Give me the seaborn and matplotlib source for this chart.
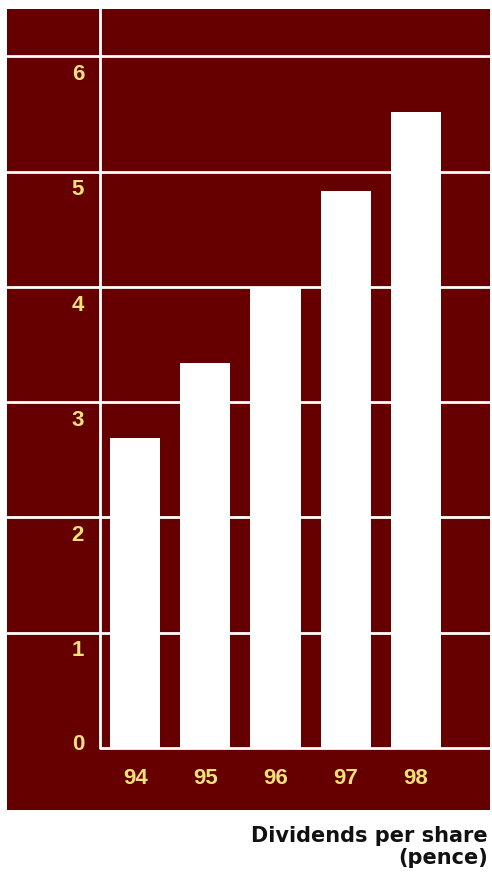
import numpy as np
import pandas as pd
import matplotlib
matplotlib.use('Agg')
import matplotlib.pyplot as plt
import seaborn as sns

years     = ["94", "95", "96", "97", "98"]
dividends = [2.69, 3.34, 4.00, 4.83, 5.52]
y_ticks   = [0, 1, 2, 3, 4, 5, 6]
title     = "Dividends per share\n(pence)"

BG     = "#660000"
YELLOW = "#f3e27a"
FONT   = ["Liberation Sans", "DejaVu Sans"]

sns.set_theme(style="white")
plt.rcParams['font.family'] = FONT

df = pd.DataFrame({"year": years, "dividend": dividends})

fig = plt.figure(figsize=(4.92, 8.83), dpi=100)
ax = fig.add_axes([7 / 492, 1 - 810 / 883, 483 / 492, 801 / 883])
ax.set_facecolor(BG)

# grid lines across the whole panel, baseline only right of the axis
for v in y_ticks[1:]:
    ax.axhline(v, color="white", lw=2, zorder=1)
ax.hlines(0, -0.5, 6, color="white", lw=2, zorder=3)

sns.barplot(data=df, x="year", y="dividend", color="white", width=0.714,
            saturation=1, ax=ax, zorder=2, edgecolor="none")

ax.set_xlim(-1.83, 5.06)
ax.set_ylim(-0.54, 6.41)
ax.axvline(-0.5, ymin=0.54 / 6.95, ymax=1, color="white", lw=2, zorder=3)

for v in y_ticks:
    yy = v - 0.16 if v > 0 else 0.03
    ax.text(-0.73, yy, str(v), color=YELLOW, ha="right", va="center",
            fontsize=16, fontweight="bold")
for i, yr in enumerate(years):
    ax.text(i, -0.27, yr, color=YELLOW, ha="center", va="center",
            fontsize=16, fontweight="bold")

ax.set_xticks([])
ax.set_yticks([])
ax.set_xlabel("")
ax.set_ylabel("")
for s in ax.spines.values():
    s.set_visible(False)

fig.text(488 / 492, 1 - 826 / 883, title, ha="right", va="top",
         fontsize=15, fontweight="bold", color="#111111",
         family=["DejaVu Sans"], linespacing=1.15)

fig.savefig("out.png", dpi=100, facecolor="white")
